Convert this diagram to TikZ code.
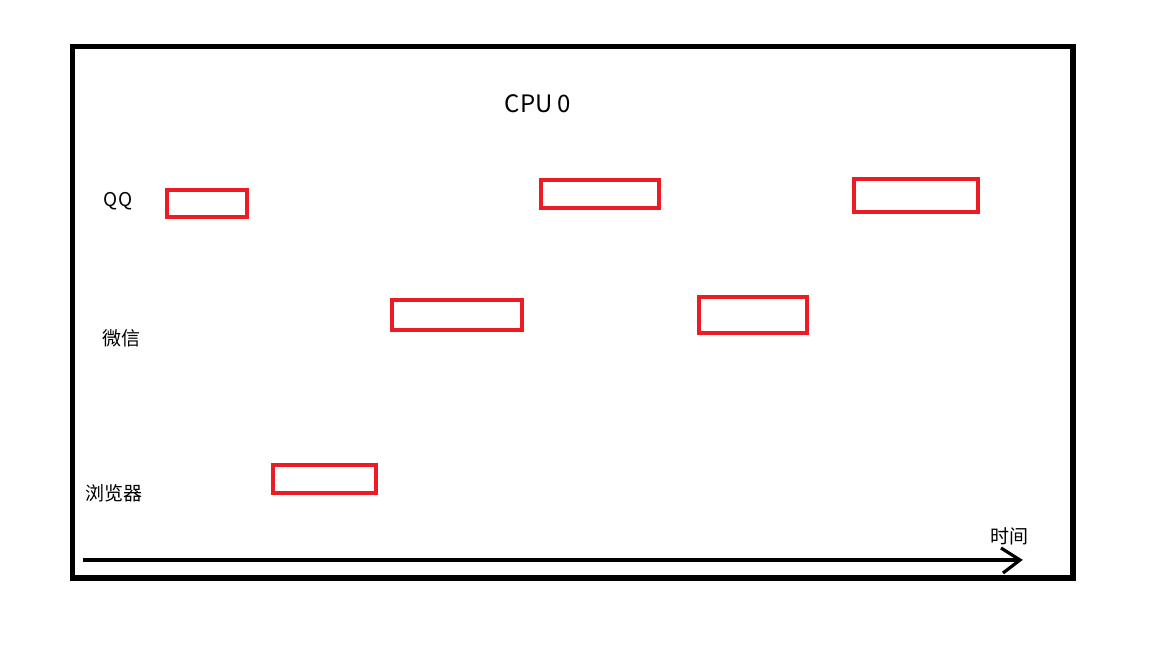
\documentclass[tikz,border=0pt]{standalone}
\usepackage{fontspec}
\setmainfont{Noto Sans CJK SC}
\definecolor{paintred}{RGB}{237,28,36}
\begin{document}
\begin{tikzpicture}[x=1pt,y=-1pt,
  slot/.style={draw=paintred,line width=3.2pt},
  lbl/.style={font=\fontsize{19}{22}\selectfont,inner sep=0pt}]
\useasboundingbox (0,0) rectangle (1174,656);
\fill[white] (0,0) rectangle (1174,656);
\draw[line width=5.5pt] (72.5,46.5) rectangle (1073,578);
\node[font=\fontsize{24}{28}\selectfont,inner sep=0pt] (cpu) at (538,104) {CPU 0};
\node[lbl] (qq) at (118,201) {QQ};
\node[lbl] (wx) at (121,338) {微信};
\node[lbl] (br) at (114,493) {浏览器};
\node[lbl] (t) at (1009,536) {时间};
\draw[slot] (167,190) rectangle (247,217);
\draw[slot] (541,180) rectangle (659,208);
\draw[slot] (854,179) rectangle (978,212);
\draw[slot] (392,300) rectangle (522,330);
\draw[slot] (699,297) rectangle (807,333);
\draw[slot] (273,465) rectangle (376,493);
\coordinate (a0) at (83,560);
\coordinate (a1) at (1020,560);
\coordinate (h1) at (1001,548);
\coordinate (h2) at (1003,573);
\draw[line width=3.2pt] (a0) -- (a1);
\draw[line width=3.2pt] (h1) -- (a1) -- (h2);
\end{tikzpicture}
\end{document}
